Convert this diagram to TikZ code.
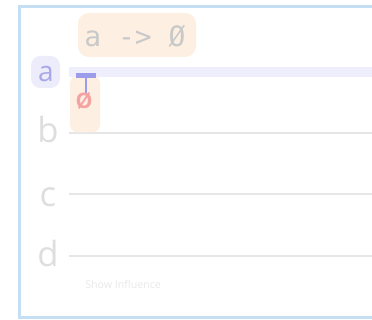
\documentclass[tikz,border=0pt]{standalone}
\usepackage{fontspec}
\setmainfont{Open Sans}
\newfontfamily\opmono{DejaVu Sans Mono}
\usetikzlibrary{positioning}
\definecolor{qframe}{HTML}{C4DFF3}
\definecolor{qwire}{HTML}{E6E6E6}
\definecolor{qsel}{HTML}{EEEEFC}
\definecolor{qselbox}{HTML}{ECECFA}
\definecolor{qseltext}{HTML}{A8A8E8}
\definecolor{qlabel}{HTML}{DEDEDE}
\definecolor{qorange}{HTML}{FDF0E2}
\definecolor{qgate}{HTML}{9C9CEA}
\definecolor{qred}{HTML}{F4A2A2}
\definecolor{qtext}{HTML}{C9C9C9}
\definecolor{qfaint}{HTML}{E8E8E8}
\tikzset{
  wlabel/.style={text=qlabel, inner sep=0pt, anchor=base, font=\fontsize{26}{26}\selectfont},
  wire/.style={qwire, line width=1.5pt},
  selwire/.style={qsel, line width=7.5pt},
  opbox/.style={fill=qorange, rounded corners=7pt, inner sep=0pt},
}

\begin{document}
\begin{tikzpicture}[x=0.75pt, y=-0.75pt]
  \useasboundingbox (0,0) rectangle (372,320);
  \clip (0,0) rectangle (372,320);
  % frame
  \draw[line width=2.25pt, qframe] (19.5,7) rectangle (400,318);

  % wires
  \fill[qselbox, rounded corners=7pt] (31,56) rectangle (60,88);
  \node[wlabel, text=qseltext, font=\fontsize{21}{21}\selectfont] (la) at (46,82) {a};
  \node[wlabel] (lb) at (48,143) {b};
  \node[wlabel] (lc) at (48,207) {c};
  \node[wlabel] (ld) at (48,267) {d};
  \coordinate (ea) at (372,72);
  \coordinate (eb) at (372,133);
  \coordinate (ec) at (372,194.5);
  \coordinate (ed) at (372,256);
  \draw[selwire] (69,72) -- (ea);
  \draw[wire] (69,133) -- (eb);
  \draw[wire] (69,194.5) -- (ec);
  \draw[wire] (69,256) -- (ed);

  % operation
  \node[opbox, minimum width=118pt*0.75, minimum height=44pt*0.75, rounded corners=8pt] (op) at (137,35) {};
  \node[text=qtext, inner sep=0pt, anchor=base, font=\opmono\fontsize{21}{21}\selectfont] (optext) at (135,47) {a -> Ø};
  \node[opbox, minimum width=30pt*0.75, minimum height=57pt*0.75, rounded corners=6pt] (gate) at (85,104) {};
  \fill[qgate] (75.5,73) rectangle (95.5,78.5);
  \draw[qgate, line width=1.5pt] (85.5,78) -- (85.5,95);
  \node[text=qred, inner sep=0pt, font=\fontsize{16}{16}\selectfont\bfseries] (nul) at (84,101) {Ø};

  \node[text=qfaint, font=\fontsize{8}{8}\selectfont, anchor=west, inner sep=0pt] (infl) at (85,284) {Show Influence};
\end{tikzpicture}
\end{document}
